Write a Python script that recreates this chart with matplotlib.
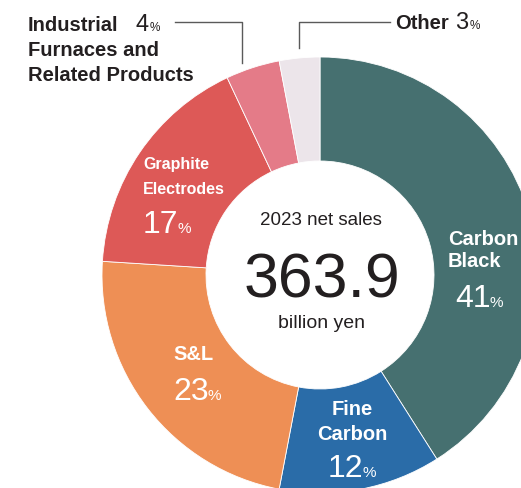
import matplotlib
matplotlib.use("Agg")
import matplotlib.pyplot as plt

# segment data (clockwise from 12 o'clock)
segments = ["Carbon Black", "Fine Carbon", "S&L", "Graphite Electrodes",
            "Industrial Furnaces and Related Products", "Other"]
shares = [41, 12, 23, 17, 4, 3]
colors = ["#467070", "#2a6ca8", "#ee8f55", "#dd5957", "#e47b88", "#ece5ea"]
total_label = "2023 net sales"
total_value = "363.9"
total_unit = "billion yen"

W, H = 521, 488
fig = plt.figure(figsize=(W / 100, H / 100), dpi=100)
ax = fig.add_axes([0, 0, 1, 1])
ax.pie(shares, colors=colors, startangle=90, counterclock=False,
       radius=218, center=(320, H - 275),
       wedgeprops=dict(width=104, edgecolor="white", linewidth=0.6))
ax.set_xlim(0, W)
ax.set_ylim(0, H)
ax.set_aspect("equal")
ax.axis("off")

FAM = ["Liberation Sans", "DejaVu Sans"]
DARK = "#231f20"
renderer = fig.canvas.get_renderer()


def txt(x, y, s, size, color=DARK, weight="bold", ha="left"):
    return ax.text(x, H - y, s, fontsize=size, color=color, family=FAM,
                   fontweight=weight, ha=ha, va="baseline")


def pct(x, y, val, size, psize, color, gap=-1.5):
    t = txt(x, y, str(val), size, color, "normal")
    bb = t.get_window_extent(renderer=renderer)
    txt(bb.x1 + gap, y, "%", psize, color, "normal")


# outside labels with leader lines
ax.plot([175, 242, 242], [H - 22, H - 22, H - 63], color="#5a5a5a", lw=1)
ax.plot([299, 299, 390], [H - 48, H - 22, H - 22], color="#5a5a5a", lw=1)
txt(28, 31, "Industrial", 14.5)
txt(28, 56, "Furnaces and", 14.5)
txt(28, 81, "Related Products", 14.5)
pct(135, 31, shares[4], 17, 8.5, DARK, gap=1.5)
txt(395, 29, segments[5], 14.5)
pct(455, 29, shares[5], 17, 8.5, DARK, gap=1.5)

# labels inside the ring
txt(143, 169, "Graphite", 11.5, "white")
txt(143, 194, "Electrodes", 11.5, "white")
pct(143, 233, shares[3], 23, 11, "white")

txt(448, 245, "Carbon", 14.5, "white")
txt(448, 267, "Black", 14.5, "white")
pct(455, 307, shares[0], 23, 11, "white")

txt(352, 415, "Fine", 14.5, "white", ha="center")
txt(352, 440, "Carbon", 14.5, "white", ha="center")
pct(328, 477, shares[1], 23, 11, "white")

txt(173, 360, segments[2], 14.5, "white")
pct(173, 400, shares[2], 23, 11, "white")

# centre
txt(321, 225, total_label, 13.5, weight="normal", ha="center")
txt(322, 298, total_value, 45, weight="normal", ha="center")
txt(321, 328, total_unit, 14, weight="normal", ha="center")

fig.savefig("out.png", dpi=100)
